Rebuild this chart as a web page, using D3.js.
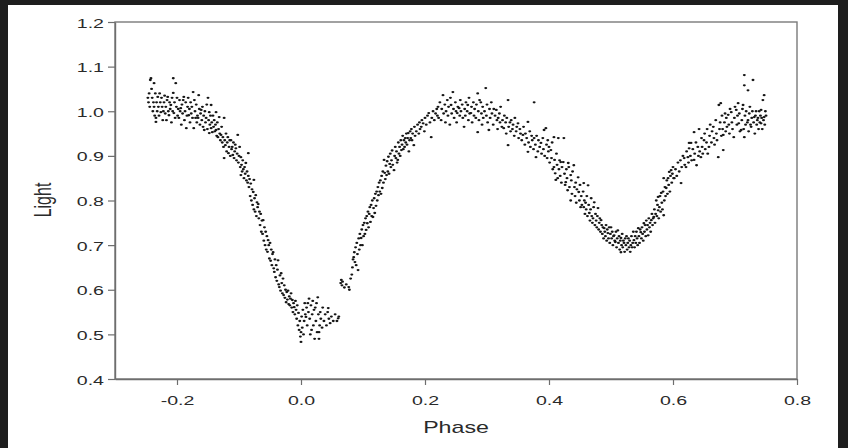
<!DOCTYPE html>
<html>
<head>
<meta charset="utf-8">
<script src="https://cdn.jsdelivr.net/npm/d3@7"></script>
<style>
  html, body { margin: 0; padding: 0; background: #1e1e1e; }
  svg { display: block; }
  text { font-family: "Liberation Sans", Arial, sans-serif; fill: #2a2a2a; }
</style>
</head>
<body>
<div id="chart"></div>
<script>
const width = 848;
const height = 448;

// tick labels
const xTicks = [-0.2, 0.0, 0.2, 0.4, 0.6, 0.8];
const yTicks = [0.4, 0.5, 0.6, 0.7, 0.8, 0.9, 1.0, 1.1, 1.2];

const maxI = [
  [-0.247,1.03],[-0.246,1.02],[-0.245,1.04],[-0.244,1.01],[-0.243,1.07],[-0.242,1.074],[-0.241,1.05],[-0.240,1.03],
  [-0.239,1.00],[-0.238,1.02],[-0.237,1.063],[-0.237,1.01],[-0.236,0.99],[-0.235,1.04],[-0.234,0.976],[-0.234,0.985],
  [-0.233,1.02],[-0.232,1.00],[-0.231,1.032],[-0.230,1.01],[-0.229,0.99],[-0.228,1.04],[-0.227,1.02],[-0.226,0.998],
  [-0.225,1.03],[-0.224,1.01],[-0.223,0.98],[-0.222,1.00],[-0.221,1.02],[-0.220,1.035],[-0.219,0.995],[-0.218,1.01],
  [-0.217,0.98],[-0.216,1.025],[-0.215,1.032],[-0.214,1.00],[-0.213,0.991],[-0.212,1.02],[-0.211,1.005],[-0.210,1.014],
  [-0.209,0.975],[-0.208,1.03],[-0.207,1.00],[-0.206,1.074],[-0.206,1.041],[-0.205,0.996],[-0.204,1.02],[-0.203,0.985],
  [-0.202,1.063],[-0.201,1.01],[-0.200,1.03],[-0.199,0.99],[-0.198,1.005],[-0.197,0.985],[-0.196,1.025],[-0.195,1.00],
  [-0.194,1.007],[-0.193,0.97],[-0.192,1.015],[-0.191,0.995],[-0.190,1.025],[-0.189,1.032],[-0.188,0.98],[-0.187,1.00],
  [-0.186,1.02],[-0.185,0.962],[-0.184,0.99],[-0.183,1.01],[-0.182,1.03],[-0.181,0.991],[-0.180,1.005],[-0.179,0.975],
  [-0.178,1.02],[-0.177,0.995],[-0.176,1.01],[-0.175,0.985],[-0.174,1.043],[-0.173,0.962],[-0.172,1.025],[-0.171,1.00],
  [-0.170,0.985],[-0.169,1.015],[-0.168,0.975],[-0.167,0.99],[-0.166,0.985],[-0.165,1.036],[-0.164,1.005],[-0.163,0.97],
  [-0.162,0.995],[-0.161,1.003],[-0.160,0.98],[-0.159,1.01],[-0.158,0.965],[-0.157,0.99],[-0.156,0.958],[-0.155,1.00],
  [-0.154,0.975],[-0.153,0.985],[-0.152,1.015],[-0.151,0.96],[-0.150,1.03],[-0.149,0.98],[-0.148,0.998],[-0.148,0.951],
  [-0.147,0.97],[-0.146,0.99],[-0.145,1.014],[-0.145,0.962],[-0.144,0.975],[-0.143,0.953],[-0.142,0.99],[-0.141,0.965],
  [-0.140,0.98],[-0.139,0.955],[-0.138,0.97],[-0.137,0.998],[-0.137,0.958],[-0.136,0.945],[-0.135,0.975],[-0.134,0.942],
  [-0.133,0.96],[-0.132,0.987],[-0.131,0.95],[-0.130,0.935],[-0.129,0.947],[-0.128,0.965],[-0.127,0.93],[-0.126,0.942],
  [-0.125,0.92],[-0.124,0.985],[-0.124,0.895],[-0.123,0.935],[-0.122,0.924],[-0.121,0.95],[-0.120,0.91],[-0.119,0.93],
  [-0.118,0.942],[-0.117,0.906],[-0.116,0.92],[-0.115,0.935],[-0.114,0.90],[-0.113,0.935],[-0.112,0.915],[-0.111,0.92],
  [-0.110,0.902],[-0.109,0.93],[-0.108,0.895],[-0.107,0.91],[-0.106,0.925],[-0.105,0.917],[-0.104,0.89],[-0.103,0.905],
  [-0.102,0.947],[-0.101,0.885],[-0.100,0.90]
];

const descentI = [
  [-0.099,0.92],[-0.098,0.875],[-0.097,0.897],[-0.097,0.857],[-0.096,0.88],[-0.095,0.865],[-0.094,0.89],[-0.093,0.87],
  [-0.092,0.85],[-0.091,0.875],[-0.090,0.86],[-0.089,0.884],[-0.088,0.845],[-0.087,0.865],[-0.086,0.84],[-0.085,0.906],
  [-0.085,0.855],[-0.084,0.83],[-0.083,0.848],[-0.082,0.81],[-0.081,0.838],[-0.080,0.80],[-0.079,0.825],[-0.078,0.79],
  [-0.077,0.819],[-0.076,0.846],[-0.076,0.78],[-0.075,0.805],[-0.074,0.775],[-0.073,0.812],[-0.072,0.765],[-0.071,0.796],
  [-0.070,0.785],[-0.069,0.792],[-0.068,0.76],[-0.067,0.775],[-0.066,0.745],[-0.065,0.77],[-0.064,0.73],[-0.063,0.755],
  [-0.062,0.725],[-0.061,0.756],[-0.060,0.71],[-0.059,0.74],[-0.058,0.70],[-0.057,0.73],[-0.056,0.69],[-0.055,0.72],
  [-0.054,0.685],[-0.053,0.711],[-0.052,0.70],[-0.051,0.67],[-0.050,0.705],[-0.049,0.665],[-0.048,0.69],[-0.047,0.655],
  [-0.046,0.68],[-0.045,0.684],[-0.044,0.648],[-0.043,0.64],[-0.042,0.668],[-0.041,0.628],[-0.040,0.655],[-0.039,0.62],
  [-0.038,0.645],[-0.037,0.666],[-0.036,0.612],[-0.035,0.606],[-0.034,0.632],[-0.033,0.598],[-0.032,0.637],[-0.031,0.615],
  [-0.030,0.592],[-0.029,0.625],[-0.028,0.588],[-0.027,0.61],[-0.026,0.582],[-0.025,0.60],[-0.024,0.572],[-0.023,0.595],
  [-0.022,0.578],[-0.021,0.598],[-0.020,0.568]
];

const minI = [
  [-0.019,0.585],[-0.018,0.565],[-0.017,0.58],[-0.016,0.592],[-0.015,0.56],[-0.014,0.577],[-0.013,0.55],[-0.012,0.57],
  [-0.011,0.561],[-0.010,0.545],[-0.009,0.575],[-0.008,0.555],[-0.007,0.535],[-0.006,0.565],[-0.005,0.52],[-0.004,0.548],
  [-0.003,0.51],[-0.002,0.53],[-0.001,0.495],[0.000,0.505],[0.000,0.483],[0.001,0.54],[0.002,0.515],[0.003,0.555],
  [0.004,0.50],[0.005,0.53],[0.006,0.57],[0.007,0.545],[0.008,0.539],[0.009,0.56],[0.010,0.52],[0.011,0.57],
  [0.012,0.55],[0.013,0.58],[0.014,0.535],[0.015,0.50],[0.016,0.565],[0.017,0.51],[0.018,0.545],[0.019,0.575],
  [0.020,0.52],[0.021,0.555],[0.022,0.49],[0.023,0.56],[0.024,0.53],[0.025,0.57],[0.026,0.505],[0.027,0.583],
  [0.028,0.545],[0.029,0.505],[0.029,0.49],[0.030,0.52],[0.031,0.55],[0.032,0.535],[0.034,0.515],[0.035,0.56],
  [0.037,0.53],[0.039,0.545],[0.041,0.52],[0.043,0.55],[0.044,0.559],[0.045,0.535],[0.047,0.525],[0.049,0.54],
  [0.052,0.53],[0.055,0.545],[0.058,0.53],[0.060,0.536],[0.061,0.54]
];

const riseI = [
  [0.064,0.615],[0.065,0.622],[0.066,0.61],[0.067,0.618],[0.070,0.605],[0.073,0.612],[0.077,0.606],[0.078,0.60],
  [0.080,0.625],[0.082,0.634],[0.083,0.65],[0.084,0.668],[0.085,0.673],[0.086,0.684],[0.087,0.662],[0.088,0.695],
  [0.089,0.655],[0.090,0.705],[0.091,0.68],[0.092,0.644],[0.093,0.715],[0.094,0.69],[0.095,0.725],[0.096,0.70],
  [0.097,0.716],[0.098,0.735],[0.099,0.70],[0.100,0.745],[0.101,0.72],[0.102,0.75],[0.103,0.725],[0.104,0.76],
  [0.105,0.734],[0.106,0.765],[0.107,0.749],[0.108,0.775],[0.109,0.74],[0.110,0.77],[0.111,0.785],[0.112,0.752],
  [0.113,0.79],[0.114,0.765],[0.115,0.80],[0.116,0.763],[0.117,0.783],[0.118,0.805],[0.119,0.772],[0.120,0.815],
  [0.121,0.788],[0.122,0.82],[0.123,0.80],[0.124,0.83],[0.125,0.812],[0.126,0.84],[0.127,0.82],[0.128,0.845],
  [0.129,0.815],[0.130,0.855],[0.131,0.828],[0.132,0.865],[0.133,0.84],[0.134,0.891],[0.135,0.862],[0.136,0.848],
  [0.137,0.878],[0.138,0.857],[0.139,0.888],[0.140,0.865],[0.141,0.898],[0.142,0.86],[0.143,0.882],[0.144,0.905],
  [0.145,0.875],[0.146,0.89],[0.147,0.912],[0.148,0.88],[0.150,0.868],[0.151,0.90],[0.152,0.92],[0.153,0.895],
  [0.154,0.91],[0.155,0.885],[0.156,0.891],[0.157,0.93],[0.158,0.905],[0.159,0.92],[0.160,0.90],[0.161,0.935],
  [0.162,0.913],[0.163,0.925],[0.164,0.945],[0.165,0.915],[0.166,0.935],[0.167,0.92],[0.168,0.94],[0.169,0.93],
  [0.170,0.95],[0.171,0.925],[0.172,0.94],[0.173,0.951],[0.174,0.91],[0.175,0.935],[0.176,0.955],[0.177,0.94],
  [0.178,0.96],[0.179,0.935],[0.180,0.95],[0.182,0.924],[0.183,0.965],[0.184,0.945],[0.186,0.955],[0.188,0.97],
  [0.190,0.95],[0.191,0.975],[0.192,0.96],[0.194,0.965],[0.195,0.98],[0.197,0.973],[0.199,0.955],[0.200,0.985],
  [0.202,0.97],[0.204,0.99],[0.206,0.996],[0.208,0.975],[0.210,0.942],[0.211,0.985],[0.213,1.00],[0.215,0.98],
  [0.217,0.995],[0.219,1.005],[0.220,0.99]
];

const maxII = [
  [0.221,1.01],[0.222,0.985],[0.224,1.02],[0.226,0.98],[0.227,1.005],[0.229,1.036],[0.230,0.995],[0.232,1.015],
  [0.233,0.975],[0.234,1.00],[0.236,1.025],[0.237,0.99],[0.238,1.01],[0.240,0.97],[0.241,1.03],[0.242,1.014],
  [0.243,0.995],[0.245,1.043],[0.246,1.005],[0.247,0.985],[0.249,1.02],[0.250,1.00],[0.251,0.975],[0.252,0.996],
  [0.253,1.01],[0.255,1.007],[0.256,0.99],[0.257,1.025],[0.258,1.00],[0.260,1.015],[0.261,0.985],[0.263,0.965],
  [0.264,1.005],[0.265,0.99],[0.266,1.02],[0.268,1.00],[0.269,1.014],[0.270,0.98],[0.271,1.03],[0.272,0.995],
  [0.274,0.996],[0.275,1.01],[0.276,0.975],[0.278,1.02],[0.279,0.99],[0.280,1.005],[0.282,0.985],[0.283,1.015],
  [0.285,1.04],[0.285,0.953],[0.286,1.00],[0.287,0.98],[0.288,1.025],[0.290,1.02],[0.291,0.995],[0.292,0.97],
  [0.293,1.01],[0.294,0.985],[0.296,1.00],[0.298,1.052],[0.299,0.99],[0.300,1.015],[0.301,0.975],[0.303,0.958],
  [0.304,1.005],[0.305,0.985],[0.307,1.02],[0.308,0.995],[0.310,0.97],[0.311,1.005],[0.313,0.99],[0.315,1.003],
  [0.316,0.98],[0.317,0.96],[0.318,0.985],[0.320,0.995],[0.321,0.975],[0.322,1.01],[0.324,0.965],[0.325,0.98],
  [0.327,0.962],[0.328,0.99],[0.330,0.975],[0.331,0.95],[0.332,0.985],[0.334,1.025],[0.334,0.924],[0.335,0.965],
  [0.337,0.975],[0.338,0.955],[0.339,0.98],[0.341,0.96],[0.342,0.97],[0.344,0.945],[0.345,0.985],[0.347,0.955],
  [0.348,0.965],[0.350,0.973],[0.351,0.94],[0.353,0.96],[0.354,0.95],[0.356,0.935],[0.358,0.947],[0.359,0.965],
  [0.361,0.925],[0.362,0.95],[0.364,0.94],[0.366,0.976],[0.366,0.909],[0.367,0.93],[0.369,0.955],[0.370,0.92],
  [0.372,0.945],[0.373,0.935],[0.375,0.915],[0.376,1.02],[0.376,0.94],[0.378,0.925],[0.379,0.897],[0.380,0.945],
  [0.382,0.91],[0.383,0.935],[0.385,0.92],[0.387,0.929],[0.388,0.905],[0.390,0.94],[0.391,0.915],[0.392,0.958],
  [0.393,0.90],[0.395,0.962],[0.396,0.925],[0.397,0.895],[0.398,0.935],[0.399,0.91]
];

const minII = [
  [0.400,0.92],[0.401,0.885],[0.403,0.913],[0.404,0.895],[0.405,0.93],[0.406,0.87],[0.408,0.942],[0.408,0.875],
  [0.409,0.891],[0.410,0.861],[0.411,0.846],[0.412,0.905],[0.413,0.88],[0.414,0.85],[0.415,0.94],[0.416,0.87],
  [0.417,0.89],[0.418,0.855],[0.419,0.886],[0.420,0.84],[0.421,0.875],[0.423,0.886],[0.424,0.94],[0.425,0.86],
  [0.426,0.835],[0.427,0.841],[0.428,0.87],[0.429,0.85],[0.430,0.823],[0.431,0.884],[0.432,0.875],[0.433,0.83],
  [0.435,0.857],[0.435,0.80],[0.436,0.845],[0.437,0.815],[0.438,0.865],[0.440,0.879],[0.441,0.83],[0.442,0.81],
  [0.443,0.84],[0.444,0.795],[0.445,0.825],[0.447,0.852],[0.448,0.819],[0.449,0.80],[0.450,0.835],[0.451,0.785],
  [0.452,0.81],[0.453,0.79],[0.455,0.82],[0.456,0.839],[0.456,0.785],[0.457,0.80],[0.458,0.77],[0.459,0.795],
  [0.460,0.78],[0.461,0.81],[0.462,0.765],[0.463,0.834],[0.464,0.79],[0.465,0.772],[0.466,0.755],[0.467,0.78],
  [0.468,0.805],[0.469,0.765],[0.470,0.75],[0.471,0.76],[0.472,0.785],[0.473,0.796],[0.474,0.745],[0.475,0.77],
  [0.476,0.755],[0.477,0.74],[0.478,0.765],[0.479,0.783],[0.480,0.735],[0.481,0.75],[0.482,0.76],[0.483,0.73],
  [0.484,0.756],[0.485,0.745],[0.486,0.725],[0.487,0.74],[0.488,0.715],[0.489,0.738],[0.490,0.73],[0.491,0.72],
  [0.492,0.745],[0.493,0.71],[0.494,0.735],[0.495,0.727],[0.496,0.715],[0.497,0.74],[0.498,0.705],[0.499,0.725],
  [0.500,0.74],[0.501,0.715],[0.502,0.73],[0.503,0.70],[0.504,0.72],[0.505,0.722],[0.506,0.71],[0.507,0.707],
  [0.508,0.73],[0.509,0.695],[0.510,0.715],[0.511,0.733],[0.512,0.705],[0.513,0.72],[0.514,0.69],[0.515,0.71],
  [0.516,0.716],[0.516,0.684],[0.517,0.70],[0.518,0.725],[0.519,0.695],[0.520,0.71],[0.521,0.705],[0.522,0.685],
  [0.523,0.715],[0.524,0.70],[0.525,0.72],[0.526,0.69],[0.527,0.705],[0.528,0.715],[0.529,0.695],[0.530,0.71],
  [0.531,0.685],[0.532,0.70],[0.533,0.72],[0.534,0.695],[0.535,0.705],[0.536,0.73],[0.537,0.711],[0.538,0.695],
  [0.539,0.72],[0.540,0.705],[0.541,0.73],[0.542,0.715],[0.543,0.70],[0.544,0.738],[0.545,0.72],[0.546,0.705],
  [0.547,0.735],[0.548,0.729],[0.549,0.715],[0.550,0.74],[0.551,0.725],[0.552,0.71],[0.553,0.749],[0.554,0.73],
  [0.555,0.745],[0.556,0.72],[0.557,0.755],[0.558,0.735],[0.559,0.745],[0.560,0.722],[0.561,0.76],[0.562,0.74],
  [0.563,0.75],[0.564,0.73],[0.565,0.756],[0.566,0.77],[0.567,0.745],[0.568,0.76],[0.569,0.763],[0.570,0.78],
  [0.571,0.75],[0.572,0.77],[0.573,0.80],[0.574,0.765],[0.575,0.79],[0.576,0.778],[0.576,0.808],[0.577,0.76],
  [0.578,0.785],[0.579,0.81],[0.580,0.775],[0.581,0.817],[0.582,0.795],[0.583,0.78],[0.584,0.82],[0.585,0.767],
  [0.585,0.85],[0.586,0.80],[0.587,0.83],[0.588,0.81],[0.589,0.828],[0.590,0.845],[0.591,0.815],[0.592,0.85],
  [0.593,0.835],[0.594,0.864],[0.595,0.82],[0.596,0.855],[0.597,0.868],[0.598,0.84],[0.599,0.86],[0.600,0.875]
];

const riseII = [
  [0.601,0.85],[0.602,0.85],[0.604,0.87],[0.606,0.855],[0.608,0.885],[0.610,0.865],[0.612,0.89],[0.613,0.839],
  [0.614,0.875],[0.616,0.90],[0.618,0.895],[0.619,0.88],[0.621,0.875],[0.622,0.91],[0.624,0.897],[0.625,0.885],
  [0.626,0.917],[0.626,0.929],[0.628,0.90],[0.629,0.929],[0.630,0.89],[0.632,0.915],[0.634,0.891],[0.634,0.953],
  [0.635,0.905],[0.637,0.93],[0.638,0.879],[0.640,0.92],[0.641,0.90],[0.642,0.96],[0.643,0.91],[0.645,0.897],
  [0.646,0.94],[0.647,0.92],[0.648,0.905],[0.650,0.935],[0.651,0.95],[0.652,0.915],[0.654,0.93],[0.655,0.96],
  [0.656,0.905],[0.658,0.92],[0.659,0.945],[0.660,0.97],[0.662,0.93],[0.663,0.955],[0.665,0.965],[0.666,0.94],
  [0.667,0.925],[0.669,0.98],[0.670,0.95],[0.671,0.935],[0.673,0.897],[0.674,1.014],[0.675,0.96],[0.676,0.975],
  [0.677,1.018],[0.678,0.945],[0.679,0.99],[0.680,0.96],[0.681,0.913],[0.681,0.947],[0.683,0.975],[0.684,0.995],
  [0.685,0.955],[0.686,0.985],[0.687,0.965],[0.689,0.992],[0.690,0.97],[0.691,0.95],[0.692,1.005],[0.694,0.998],
  [0.695,0.975],[0.696,0.96],[0.698,0.942],[0.699,0.985],[0.700,1.01],[0.702,1.003],[0.703,0.97],[0.704,0.99],
  [0.705,1.018],[0.706,0.973],[0.707,0.995],[0.708,0.955],[0.710,0.958],[0.711,0.98],[0.712,1.005],[0.713,1.014],
  [0.714,0.96],[0.715,1.081],[0.715,1.058],[0.715,0.942],[0.716,0.99],[0.717,0.97],[0.718,1.0],[0.720,0.975],
  [0.721,0.98],[0.721,1.047],[0.722,0.955],[0.723,0.995],[0.724,1.01],[0.725,0.97],[0.726,0.965],[0.727,0.985],
  [0.728,1.00],[0.729,1.07],[0.730,0.975],[0.731,0.987],[0.732,0.95],[0.733,0.99],[0.734,1.0],[0.735,0.97],
  [0.736,0.98],[0.737,0.985],[0.738,0.96],[0.739,1.0],[0.740,0.975],[0.741,0.99],[0.742,0.973],[0.742,1.003],
  [0.743,0.985],[0.744,0.96],[0.745,1.025],[0.746,0.98],[0.747,0.987],[0.747,1.036],[0.748,0.97],[0.749,1.0],
  [0.750,0.99]
];

const points = [].concat(maxI, descentI, minI, riseI, maxII, minII, riseII);

const svg = d3.select("#chart")
  .append("svg")
  .attr("width", width)
  .attr("height", height);

// dark screenshot frame + white page
svg.append("rect").attr("width", width).attr("height", height).attr("fill", "#1e1e1e");
svg.append("rect")
  .attr("x", 8).attr("y", 5)
  .attr("width", 830).attr("height", height - 5)
  .attr("fill", "#ffffff");

const x = d3.scaleLinear().domain([-0.3, 0.8]).range([115, 797]);
const y = d3.scaleLinear().domain([0.4, 1.2]).range([379, 22]);

const stretch = "scale(1.45,1)";

// plot frame (top / right)
svg.append("rect")
  .attr("x", x(-0.3)).attr("y", y(1.2))
  .attr("width", x(0.8) - x(-0.3))
  .attr("height", y(0.4) - y(1.2))
  .attr("fill", "none")
  .attr("stroke", "#7a7a7a")
  .attr("stroke-width", 1.4);

const gx = svg.append("g")
  .attr("transform", `translate(0,${y(0.4)})`)
  .call(d3.axisBottom(x).tickValues(xTicks).tickSize(6).tickSizeOuter(0)
    .tickFormat(d => d.toFixed(1)));

const gy = svg.append("g")
  .attr("transform", `translate(${x(-0.3)},0)`)
  .call(d3.axisLeft(y).tickValues(yTicks).tickSize(7).tickSizeOuter(0)
    .tickFormat(d => d.toFixed(1)));

[gx, gy].forEach(g => {
  g.select(".domain").attr("stroke", "#6e6e6e").attr("stroke-width", 1.4);
  g.selectAll(".tick line").attr("stroke", "#6e6e6e").attr("stroke-width", 1.2);
  g.selectAll(".tick text")
    .attr("font-family", "Liberation Sans, Arial, sans-serif")
    .attr("font-size", 13.5)
    .attr("fill", "#222");
});

gx.selectAll(".tick text")
  .attr("y", 0).attr("dy", null)
  .attr("transform", `translate(0,26) ${stretch}`);

gy.selectAll(".tick text")
  .attr("x", 0).attr("dy", null)
  .attr("transform", `translate(-11,5) ${stretch}`);

// markers
svg.append("g")
  .selectAll("ellipse")
  .data(points)
  .join("ellipse")
  .attr("cx", d => x(d[0]))
  .attr("cy", d => y(d[1]))
  .attr("rx", 1.5)
  .attr("ry", 1.15)
  .attr("fill", "#151515");

// axis titles
svg.append("text")
  .attr("transform", `translate(${(x(-0.3) + x(0.8)) / 2},433) ${stretch}`)
  .attr("text-anchor", "middle")
  .attr("font-size", 16)
  .attr("fill", "#222")
  .text("Phase");

svg.append("text")
  .attr("transform", `translate(51,200) rotate(-90) scale(1,1.45)`)
  .attr("text-anchor", "middle")
  .attr("font-size", 16)
  .attr("fill", "#222")
  .text("Light");
</script>
</body>
</html>
